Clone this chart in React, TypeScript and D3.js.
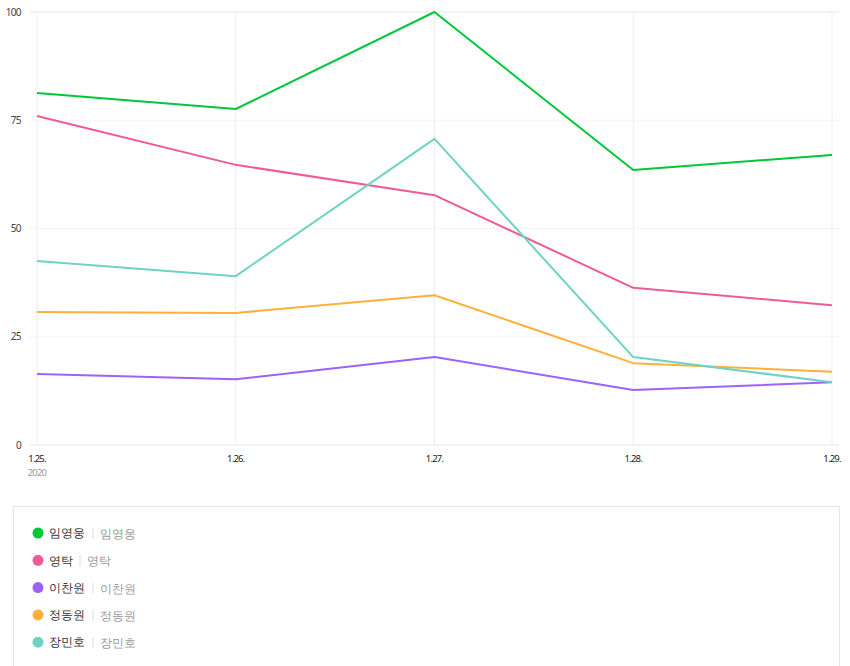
import React from 'react';
import * as d3 from 'd3';

// données
const dates = ['1.25.', '1.26.', '1.27.', '1.28.', '1.29.'];
const names = ['임영웅', '영탁', '이찬원', '정동원', '장민호'];
const colors = ['#00c73c', '#ef5a98', '#9d62f7', '#ffb03b', '#6fd3c3'];
const lim = [81.3, 77.6, 100, 63.5, 67.0];
const young = [76.0, 64.7, 57.7, 36.3, 32.3];
const lee = [16.4, 15.2, 20.3, 12.7, 14.5];
const jung = [30.7, 30.5, 34.6, 18.9, 16.9];
const jang = [42.5, 39.0, 70.7, 20.3, 14.5];
const yTicks = [0, 25, 50, 75, 100];

const series = [lim, young, lee, jung, jang];

export default function App() {
  const width = 850;
  const height = 666;
  const x = d3.scalePoint<string>().domain(dates).range([37, 832]);
  const y = d3.scaleLinear().domain([0, 100]).range([445, 12]);
  const line = d3
    .line<number>()
    .x((d, i) => x(dates[i]) as number)
    .y(d => y(d));
  const font = "'Noto Sans', sans-serif";

  return (
    <svg
      width={width}
      height={height}
      style={{position: 'absolute', left: 0, top: 0, fontFamily: font}}
    >
      <rect width={width} height={height} fill="#fff" />
      {/* grille */}
      {yTicks.map(t => (
        <g key={t}>
          <line
            x1={29}
            x2={839}
            y1={y(t)}
            y2={y(t)}
            stroke={t === 0 || t === 100 ? '#e8e8e8' : '#ececec'}
            strokeDasharray={t === 0 || t === 100 ? undefined : '2,2'}
          />
          <text
            x={21}
            y={y(t)}
            dy="0.35em"
            textAnchor="end"
            fontSize={10}
            letterSpacing={-0.6}
            fill="#444"
          >
            {t}
          </text>
        </g>
      ))}
      {dates.map((d, i) => (
        <g key={d}>
          <line
            x1={x(d)}
            x2={x(d)}
            y1={y(100)}
            y2={y(0)}
            stroke="#ececec"
          />
          <text
            x={x(d)}
            y={462}
            textAnchor="middle"
            fontSize={9.5}
            letterSpacing={-0.8}
            fill="#222"
          >
            {d}
          </text>
          {i === 0 && (
            <text
              x={x(d)}
              y={476}
              textAnchor="middle"
              fontSize={9.5}
              letterSpacing={-0.8}
              fill="#999"
            >
              2020
            </text>
          )}
        </g>
      ))}
      {/* lignes */}
      {series.map((s, i) => (
        <path
          key={names[i]}
          d={line(s) as string}
          fill="none"
          stroke={colors[i]}
          strokeWidth={2}
          strokeLinejoin="round"
        />
      ))}
      {/* légende */}
      <rect
        x={13.5}
        y={506.5}
        width={826}
        height={170}
        fill="none"
        stroke="#e6e6e6"
      />
      {names.map((n, i) => {
        const cy = 533 + i * 27.3;
        const w = n.length * 13;
        return (
          <g key={n}>
            <circle cx={38} cy={cy} r={5.5} fill={colors[i]} />
            <text x={49} y={cy} dy="0.35em" fontSize={12} fill="#333">
              {n}
            </text>
            <line
              x1={49 + w + 5}
              x2={49 + w + 5}
              y1={cy - 5}
              y2={cy + 6}
              stroke="#ddd"
            />
            <text
              x={49 + w + 12}
              y={cy + 1}
              dy="0.35em"
              fontSize={11.5}
              fill="#999"
            >
              {n}
            </text>
          </g>
        );
      })}
    </svg>
  );
}
